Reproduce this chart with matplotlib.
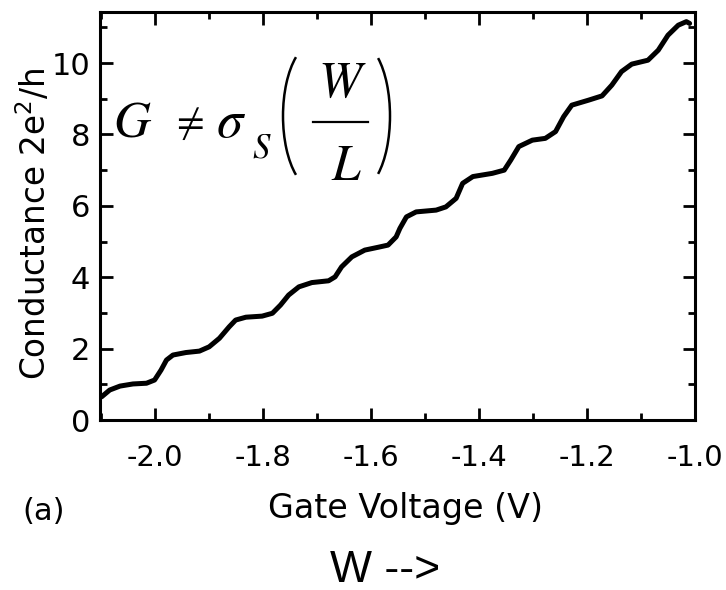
import matplotlib
matplotlib.use('Agg')
import matplotlib.pyplot as plt
from matplotlib.ticker import MultipleLocator
from matplotlib.patches import Arc
from matplotlib.lines import Line2D

# gate voltage (V) and conductance (2e^2/h)
gate_v = [-2.098, -2.083, -2.064, -2.040, -2.015, -2.000, -1.988, -1.978, -1.966, -1.942,
          -1.917, -1.899, -1.880, -1.862, -1.850, -1.831, -1.801, -1.782, -1.767, -1.752,
          -1.733, -1.709, -1.678, -1.666, -1.654, -1.635, -1.611, -1.586, -1.568, -1.553,
          -1.546, -1.534, -1.516, -1.479, -1.461, -1.442, -1.430, -1.411, -1.375, -1.353,
          -1.341, -1.326, -1.301, -1.277, -1.258, -1.243, -1.228, -1.197, -1.172, -1.154,
          -1.136, -1.117, -1.087, -1.068, -1.050, -1.031, -1.016, -1.010]
cond = [0.65, 0.84, 0.95, 1.01, 1.03, 1.12, 1.40, 1.68, 1.82, 1.89,
        1.93, 2.05, 2.29, 2.61, 2.80, 2.88, 2.91, 2.99, 3.22, 3.50,
        3.73, 3.85, 3.90, 4.01, 4.29, 4.57, 4.76, 4.84, 4.90, 5.13,
        5.37, 5.69, 5.83, 5.88, 5.97, 6.21, 6.63, 6.82, 6.91, 7.00,
        7.28, 7.66, 7.84, 7.89, 8.08, 8.50, 8.82, 8.96, 9.08, 9.38,
        9.76, 9.97, 10.08, 10.36, 10.78, 11.06, 11.16, 11.11]

x_ticks = [-2.0, -1.8, -1.6, -1.4, -1.2, -1.0]
x_ticklabels = ['-2.0', '-1.8', '-1.6', '-1.4', '-1.2', '-1.0']
y_ticks = [0, 2, 4, 6, 8, 10]

plt.rcParams['axes.unicode_minus'] = False

W, H = 726, 590
fig = plt.figure(figsize=(W / 100, H / 100), dpi=100)
ax = fig.add_axes([100 / W, 1 - 420 / H, 595 / W, 408 / H])

ax.plot(gate_v, cond, color='black', linewidth=3.6, solid_capstyle='round',
        solid_joinstyle='round')

ax.set_xlim(-2.101, -1.007)
ax.set_ylim(0, 11.43)

ax.set_xticks(x_ticks)
ax.set_xticklabels(x_ticklabels)
ax.set_yticks(y_ticks)
ax.xaxis.set_minor_locator(MultipleLocator(0.1))
ax.yaxis.set_minor_locator(MultipleLocator(1))

ax.tick_params(which='both', direction='in', top=True, right=True, width=2)
ax.tick_params(which='major', length=9)
ax.tick_params(which='minor', length=5)
ax.tick_params(axis='x', which='major', labelsize=21, pad=17)
ax.tick_params(axis='y', which='major', labelsize=22, pad=7)
for s in ax.spines.values():
    s.set_linewidth(2.2)

ax.set_ylabel('Conductance 2e$^2$/h', fontsize=23.5, rotation=90)
ax.yaxis.label.set_va('center')
ax.yaxis.set_label_coords(-0.110, 0.48)
ax.set_xlabel('Gate Voltage (V)', fontsize=24)
ax.xaxis.label.set_va('baseline')
ax.xaxis.set_label_coords(0.513, -0.240)


# formula G != sigma_S (W/L), built from pieces (pixel positions in the figure)
def px(x, y):
    return x / W, 1 - y / H


serif = dict(family='STIXGeneral', va='baseline')
fig.text(*px(113, 137), 'G', fontsize=37, style='italic', **serif)
fig.text(*px(176, 134), '\u2260', fontsize=29, **serif)
fig.text(*px(217, 137), '\u03c3', fontsize=38, style='italic', **serif)
fig.text(*px(252, 158), 'S', fontsize=25, style='italic', **serif)
fig.text(*px(340, 97), 'W', fontsize=37, style='italic', ha='center', **serif)
fig.text(*px(346, 180), 'L', fontsize=37, style='italic', ha='center', **serif)
fig.add_artist(Line2D([313 / W, 368 / W], [1 - 122 / H, 1 - 122 / H], color='black',
                      linewidth=1.6, transform=fig.transFigure))
fig.add_artist(Arc(px(315.4, 116), 2 * 32.4 / W, 2 * 73.5 / H, theta1=105, theta2=255,
                   linewidth=1.8, color='black', transform=fig.transFigure))
fig.add_artist(Arc(px(359, 116), 2 * 31 / W, 2 * 73.5 / H, theta1=-75, theta2=75,
                   linewidth=1.8, color='black', transform=fig.transFigure))

fig.text(*px(22, 520), '(a)', fontsize=22, ha='left', va='baseline')
fig.text(*px(385, 582), 'W -->', fontsize=32, family='Liberation Sans',
         ha='center', va='baseline')

fig.savefig('out.png', dpi=100)
